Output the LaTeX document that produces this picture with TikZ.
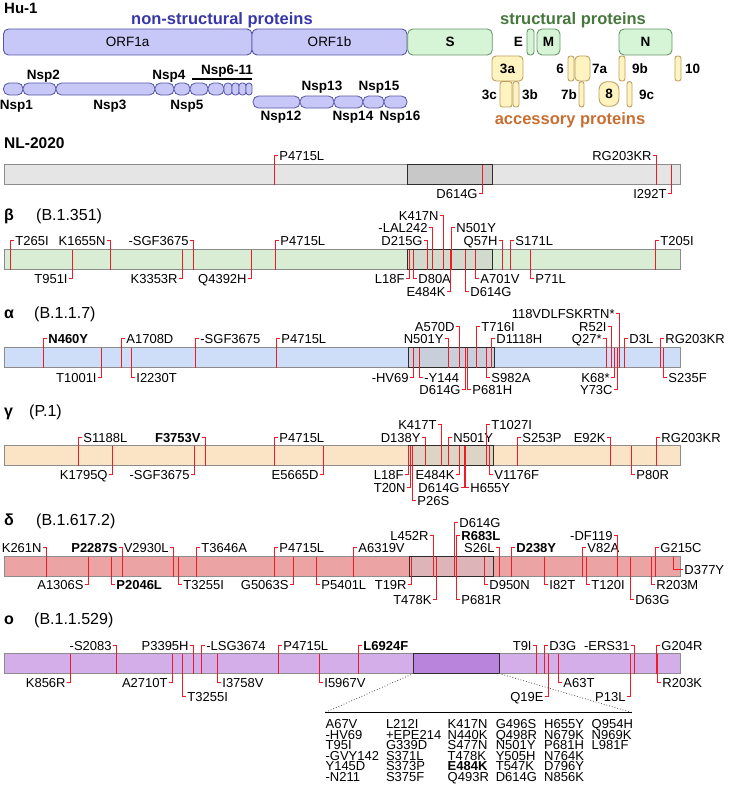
\documentclass[tikz,border=0pt]{standalone}
\usepackage{fontspec}
\setmainfont{Liberation Sans}
\definecolor{mutred}{RGB}{238,28,36}
\definecolor{orfF}{RGB}{200,200,248}
\definecolor{orfD}{RGB}{85,85,165}
\definecolor{strF}{RGB}{214,244,214}
\definecolor{strD}{RGB}{105,150,105}
\definecolor{accF}{RGB}{255,243,192}
\definecolor{accD}{RGB}{190,160,95}
\definecolor{nsT}{RGB}{55,55,170}
\definecolor{stT}{RGB}{70,120,60}
\definecolor{acT}{RGB}{200,110,50}
\definecolor{barD}{RGB}{140,140,140}
\definecolor{spkD}{RGB}{45,45,45}
\definecolor{nlB}{RGB}{229,229,229}\definecolor{nlS}{RGB}{200,200,200}
\definecolor{beB}{RGB}{217,237,212}\definecolor{beS}{RGB}{209,218,205}
\definecolor{alB}{RGB}{207,222,248}\definecolor{alS}{RGB}{200,206,218}
\definecolor{gaB}{RGB}{251,227,198}\definecolor{gaS}{RGB}{222,212,198}
\definecolor{deB}{RGB}{235,163,163}\definecolor{deS}{RGB}{221,181,184}
\definecolor{omB}{RGB}{211,174,232}\definecolor{omS}{RGB}{184,132,220}
\newcounter{mc}
\newcommand\labf{\fontsize{13}{14}\selectfont}
\newcommand\px[1]{\pgfmathsetmacro\xx{floor(#1)+0.5}}
\newcommand\py[1]{\pgfmathsetmacro\yy{floor(#1)+0.5}}
\newcommand\uR[3]{\stepcounter{mc}\px{#1}\py{#2}\node[lab,anchor=west] (m\themc) at (\xx+3.5,\yy) {#3};\draw[mut] (\xx,\bB) |- (m\themc.west);}
\newcommand\uL[3]{\stepcounter{mc}\px{#1}\py{#2}\node[lab,anchor=east] (m\themc) at (\xx-3.5,\yy) {#3};\draw[mut] (\xx,\bB) |- (m\themc.east);}
\newcommand\dR[3]{\stepcounter{mc}\px{#1}\py{#2}\node[lab,anchor=west] (m\themc) at (\xx+3.5,\yy) {#3};\draw[mut] (\xx,\bT) |- (m\themc.west);}
\newcommand\dL[3]{\stepcounter{mc}\px{#1}\py{#2}\node[lab,anchor=east] (m\themc) at (\xx-3.5,\yy) {#3};\draw[mut] (\xx,\bT) |- (m\themc.east);}
\newcommand\track[6]{\def\bT{#2}\pgfmathsetmacro\bB{#2+20}%
  \draw[bar, fill=#3] (4.5,\bT) rectangle (680.5,\bB);
  \draw[spk, fill=#6] (#4,\bT) rectangle (#5,\bB);
  \coordinate (#1SL) at (#4,\bB); \coordinate (#1SR) at (#5,\bB);}
\newcommand\trk[5]{\node[hdg,anchor=base west] (#1g) at (4,#2) {\textbf{#3}};
  \node[hdg,anchor=base west] (#1p) at (#5,#2) {#4};}
\begin{document}
\begin{tikzpicture}[x=1pt,y=-1pt,
  lab/.style={font=\labf, inner xsep=1.2pt, inner ysep=0pt, text height=9.3pt, text depth=0pt},
  tab/.style={font=\labf, inner sep=0pt, text height=9pt, text depth=0pt, anchor=west},
  mut/.style={draw=mutred, line width=1.5pt},
  bar/.style={draw=barD, line width=1pt},
  spk/.style={draw=spkD, line width=1pt},
  hdg/.style={font=\fontsize{16}{18}\selectfont, inner sep=0pt},
  big/.style={font=\bfseries\fontsize{13.5}{15}\selectfont, inner sep=0pt},
  orf/.style={draw=orfD, fill=orfF, line width=0.9pt, rounded corners=5pt, inner sep=0pt},
  str/.style={draw=strD, fill=strF, line width=0.9pt, rounded corners=5pt, inner sep=0pt},
  acc/.style={draw=accD, fill=accF, line width=0.9pt, rounded corners=2.5pt, inner sep=0pt},
  cat/.style={font=\bfseries\fontsize{16.5}{18}\selectfont, inner sep=0pt}]
\useasboundingbox (0,0) rectangle (731,792);
% ---------------- header
\node[font=\bfseries\fontsize{15}{17}\selectfont, inner sep=0pt, anchor=base west] (hu) at (4,14) {Hu-1};
\node[cat, text=nsT] (nst) at (222,20.5) {non-structural proteins};
\node[cat, text=stT] (stt) at (573,20.5) {structural proteins};
\node[cat, text=acT] (act) at (570,120) {accessory proteins};
\node[orf, minimum width=248.5pt, minimum height=26pt, font=\fontsize{13.5}{15}\selectfont] (orfa) at (127.75,42) {ORF1a};
\node[orf, minimum width=155pt, minimum height=26pt, font=\fontsize{13.5}{15}\selectfont] (orfb) at (329.5,42) {ORF1b};
\node[str, minimum width=84.5pt, minimum height=26pt, font=\bfseries\fontsize{13.5}{15}\selectfont] (sS) at (450,42) {S};
\node[str, minimum width=7pt, minimum height=26pt, rounded corners=3pt] (sE) at (530.5,42) {};
\node[big, anchor=east] (sEl) at (523,42) {E};
\node[str, minimum width=23pt, minimum height=26pt, font=\bfseries\fontsize{13.5}{15}\selectfont] (sM) at (548.5,42) {M};
\node[str, minimum width=53pt, minimum height=26pt, font=\bfseries\fontsize{13.5}{15}\selectfont] (sN) at (645.5,42) {N};
% accessory
\node[acc, minimum width=31pt, minimum height=25pt, rounded corners=4pt, font=\bfseries\fontsize{13.5}{15}\selectfont] (a3a) at (507.5,68.5) {3a};
\node[acc, minimum width=12pt, minimum height=25.5pt] (a3c) at (506,94.25) {};
\node[acc, minimum width=6pt, minimum height=25.5pt] (a3b) at (516,94.25) {};
\node[acc, minimum width=6pt, minimum height=25pt] (a6) at (571,68.5) {};
\node[acc, minimum width=15pt, minimum height=25pt, rounded corners=4pt] (a7a) at (582.5,68.5) {};
\node[acc, minimum width=5pt, minimum height=25.5pt] (a7b) at (581.5,94.25) {};
\node[acc, minimum width=20pt, minimum height=24.5pt, rounded corners=8pt, font=\bfseries\fontsize{13.5}{15}\selectfont] (a8) at (609,94) {8};
\node[acc, minimum width=6pt, minimum height=25pt] (a9b) at (622,68.5) {};
\node[acc, minimum width=5pt, minimum height=25.5pt] (a9c) at (629.5,94.25) {};
\node[acc, minimum width=6pt, minimum height=25pt] (a10) at (678,68.5) {};
\node[big, anchor=east] (l3c) at (497,95) {3c};
\node[big, anchor=west] (l3b) at (522,95) {3b};
\node[big, anchor=east] (l6) at (564,69) {6};
\node[big, anchor=west] (l7a) at (592,69) {7a};
\node[big, anchor=east] (l7b) at (577,95) {7b};
\node[big, anchor=west] (l9b) at (632,69) {9b};
\node[big, anchor=west] (l9c) at (639,95) {9c};
\node[big, anchor=west] (l10) at (685,69) {10};
% nsp
\foreach \n/\a/\b/\r in {1/3.5/23/5.5,2/23/56/5.5,3/56/155/5.5,4/155/174/5.5,5/174/190/5.5,6/190/208/5.5,7/208/224/5.5,8/224/232/3.5,9/232/239/3,10/239/246/3,11/246/252/2.8}
  \node[orf, line width=0.8pt, rounded corners=\r pt, minimum width={(\b-\a)*1pt}, minimum height=12pt] (nsp\n) at ({(\a+\b)/2},89) {};
\foreach \n/\a/\b in {12/253/300,13/300/334,14/334/363,15/363/384,16/384/407}
  \node[orf, line width=0.8pt, rounded corners=5.5pt, minimum width={(\b-\a)*1pt}, minimum height=12pt] (nsp\n) at ({(\a+\b)/2},102) {};
\node[big] (ln1) at (16.5,106) {Nsp1};
\node[big] (ln2) at (43.3,76) {Nsp2};
\node[big] (ln3) at (110,106) {Nsp3};
\node[big] (ln4) at (169,76) {Nsp4};
\node[big] (ln5) at (187,106) {Nsp5};
\node[big] (ln6) at (227,71) {Nsp6-11};
\coordinate (brA) at (192,79); \coordinate (brB) at (252,79);
\draw[line width=1.3pt] (brA) -- (brB);
\node[big] (ln12) at (281,117.5) {Nsp12};
\node[big] (ln13) at (322,87.5) {Nsp13};
\node[big] (ln14) at (353,117.5) {Nsp14};
\node[big] (ln15) at (379,87.5) {Nsp15};
\node[big] (ln16) at (400,117.5) {Nsp16};
% ---------------- NL-2020
\node[font=\bfseries\fontsize{15.5}{17}\selectfont, inner sep=0pt, anchor=base west] (nl) at (4,148.5) {NL-2020};
\track{nl}{164.5}{nlB}{407}{492}{nlS}
\uR{274}{155.5}{P4715L}
\uL{656}{155.5}{RG203KR}
\dL{482.5}{193}{D614G}
\dL{671}{193}{I292T}
% ---------------- beta
\trk{be}{220.7}{β}{(B.1.351)}{36}
\track{be}{249.5}{beB}{407}{492.5}{beS}
\uR{10.3}{240}{T265I}
\uL{110}{240}{K1655N}
\uL{193.5}{240}{-SGF3675}
\uR{275}{240}{P4715L}
\uL{427}{240}{D215G}
\uL{502}{240}{Q57H}
\uR{510.5}{240}{S171L}
\uR{655}{240}{T205I}
\uL{432.7}{227.5}{-LAL242}
\uR{451.7}{227.5}{N501Y}
\uL{443.3}{215}{K417N}
\dL{72}{278}{T951I}
\dL{182}{278}{K3353R}
\dL{251}{278}{Q4392H}
\dL{409}{278}{L18F}
\dR{413}{278}{D80A}
\dR{475}{278}{A701V}
\dR{530.5}{278}{P71L}
\dL{450}{291.5}{E484K}
\dR{465.7}{291.5}{D614G}
% ---------------- alpha
\trk{al}{318}{α}{(B.1.1.7)}{34}
\track{al}{347.5}{alB}{408}{494}{alS}
\uR{43.4}{338.5}{\textbf{N460Y}}
\uR{121.7}{338.5}{A1708D}
\uR{195}{338.5}{-SGF3675}
\uR{276}{338.5}{P4715L}
\uL{448.3}{338.5}{N501Y}
\uR{491.7}{338.5}{D1118H}
\uL{606}{338.5}{Q27*}
\uR{624}{338.5}{D3L}
\uR{660}{338.5}{RG203KR}
\uL{459}{326}{A570D}
\uR{476.7}{326}{T716I}
\uL{611}{326}{R52I}
\uL{619.3}{313}{118VDLFSKRTN*}
\dL{101}{377}{T1001I}
\dR{131.5}{377}{I2230T}
\dL{413.3}{377}{-HV69}
\dR{419.3}{377}{-Y144}
\dR{486}{377}{S982A}
\dL{614.3}{377}{K68*}
\dR{663}{377}{S235F}
\dL{465.7}{389.5}{D614G}
\dR{467.3}{389.5}{P681H}
\dL{617.3}{389.5}{Y73C}
% ---------------- gamma
\trk{ga}{416}{γ}{(P.1)}{29}
\track{ga}{445.5}{gaB}{408}{493}{gaS}
\uR{78}{437}{S1188L}
\uL{205.6}{437}{\textbf{F3753V}}
\uR{274}{437}{P4715L}
\uL{425}{437}{D138Y}
\uR{448.3}{437}{N501Y}
\uR{517.3}{437}{S253P}
\uL{610.7}{437}{E92K}
\uR{656.4}{437}{RG203KR}
\uL{441.7}{424}{K417T}
\uR{486}{424}{T1027I}
\dL{112.8}{474.5}{K1795Q}
\dL{194.9}{474.5}{-SGF3675}
\dL{323}{474.5}{E5665D}
\dL{408.3}{474.5}{L18F}
\dL{459.5}{474.5}{E484K}
\dR{489.3}{474.5}{V1176F}
\dR{631.7}{474.5}{P80R}
\dL{410}{487.5}{T20N}
\dL{464}{487.5}{D614G}
\dR{465.7}{487.5}{H655Y}
\dR{412.7}{500.5}{P26S}
% ---------------- delta
\trk{de}{525}{δ}{(B.1.617.2)}{36}
\track{de}{556.5}{deB}{409}{493}{deS}
\uL{46.6}{547.5}{K261N}
\uL{122}{547.5}{\textbf{P2287S}}
\uL{173.4}{547.5}{V2930L}
\uR{196.7}{547.5}{T3646A}
\uR{274}{547.5}{P4715L}
\uR{353.4}{547.5}{A6319V}
\uL{499.8}{547.5}{S26L}
\uR{511.4}{547.5}{\textbf{D238Y}}
\uR{582.8}{547.5}{V82A}
\uR{655}{547.5}{G215C}
\uL{433.6}{535}{L452R}
\uR{456.9}{535}{\textbf{R683L}}
\uL{617.7}{535}{-DF119}
\uR{454.5}{522.5}{D614G}
\node[lab,anchor=west] (d377) at (683,569.5) {D377Y};
\draw[mut] (673.5,\bT) |- (d377.west);
\dL{88.6}{584.5}{A1306S}
\dR{111}{584.5}{\textbf{P2046L}}
\dR{178}{584.5}{T3255I}
\dL{293.7}{584.5}{G5063S}
\dR{316}{584.5}{P5401L}
\dL{411}{584.5}{T19R}
\dR{484.8}{584.5}{D950N}
\dR{544.5}{584.5}{I82T}
\dR{586.5}{584.5}{T120I}
\dR{651.3}{584.5}{R203M}
\dL{436}{599}{T478K}
\dR{456}{599}{P681R}
\dR{630.8}{599}{D63G}
% ---------------- omicron
\trk{om}{624.5}{ο}{(B.1.1.529)}{34}
\track{om}{653.5}{omB}{413.5}{499}{omS}
\uL{116.5}{645.5}{-S2083}
\uL{193.5}{645.5}{P3395H}
\uR{201.9}{645.5}{-LSG3674}
\uR{278.8}{645.5}{P4715L}
\uR{358}{645.5}{\textbf{L6924F}}
\uL{536}{645.5}{T9I}
\uR{544.5}{645.5}{D3G}
\uL{634}{645.5}{-ERS31}
\uR{656}{645.5}{G204R}
\dL{70}{682}{K856R}
\dL{172.5}{682}{A2710T}
\dR{217.7}{682}{I3758V}
\dR{319.3}{682}{I5967V}
\dR{558.5}{682}{A63T}
\dR{657.3}{682}{R203K}
\dR{182.8}{696}{T3255I}
\dL{548.7}{696}{Q19E}
\dL{630.3}{696}{P13L}
% zoom to spike table
\coordinate (tabL) at (325,712.5); \coordinate (tabR) at (632,712.5);
\draw[dotted, line width=0.8pt, black!70] (omSL) -- (tabL);
\draw[dotted, line width=0.8pt, black!70] (omSR) -- (tabR);
\draw[line width=1pt] (tabL) -- (tabR);
\foreach \t [count=\i] in {A67V,-HV69,T95I,-GVY142,Y145D,-N211}
  \node[tab] (ta\i) at (325.4,{724+(\i-1)*10.5}) {\t};
\foreach \t [count=\i] in {L212I,+EPE214,G339D,S371L,S373P,S375F}
  \node[tab] (tb\i) at (385.8,{724+(\i-1)*10.5}) {\t};
\foreach \t [count=\i] in {K417N,N440K,S477N,T478K,{\textbf{E484K}},Q493R}
  \node[tab] (tc\i) at (447.5,{724+(\i-1)*10.5}) {\t};
\foreach \t [count=\i] in {G496S,Q498R,N501Y,Y505H,T547K,D614G}
  \node[tab] (td\i) at (495.6,{724+(\i-1)*10.5}) {\t};
\foreach \t [count=\i] in {H655Y,N679K,P681H,N764K,D796Y,N856K}
  \node[tab] (te\i) at (544,{724+(\i-1)*10.5}) {\t};
\foreach \t [count=\i] in {Q954H,N969K,L981F}
  \node[tab] (tf\i) at (591.5,{724+(\i-1)*10.5}) {\t};
\end{tikzpicture}
\end{document}
